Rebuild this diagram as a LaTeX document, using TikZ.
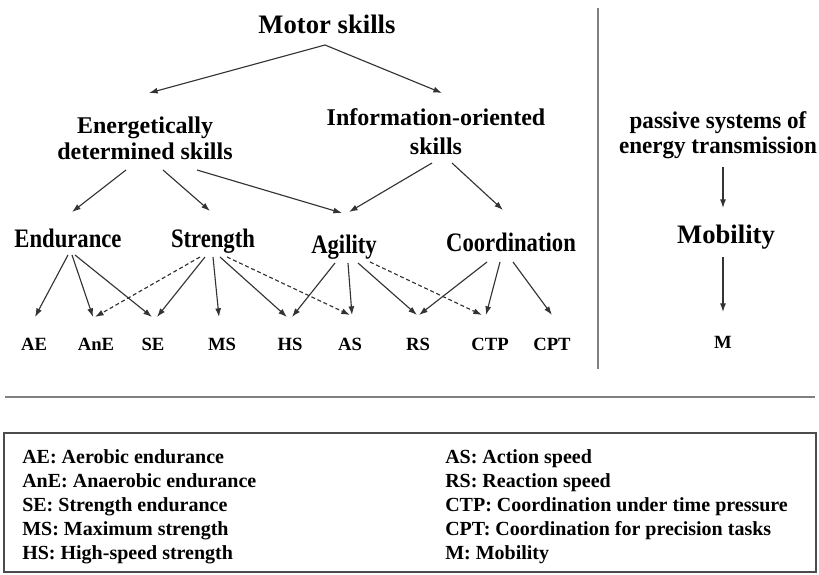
\documentclass[tikz,border=0pt]{standalone}
\usepackage{fontspec}
\setmainfont{Liberation Serif}
\usetikzlibrary{arrows.meta,calc}
\tikzset{
  arr/.style={draw=black!80, line width=0.85pt, -{Latex[length=6.5pt,width=4.5pt]}},
  dsh/.style={arr, dashed, dash pattern=on 3pt off 2pt},
  lvl1/.style={inner sep=0pt, anchor=base, font=\bfseries\fontsize{20}{22}\selectfont},
  lvl2/.style={inner sep=0pt, anchor=north, align=center, font=\bfseries\fontsize{18}{19.5}\selectfont},
  lvl3/.style={inner sep=0pt, anchor=base, font=\bfseries\fontsize{20}{22}\selectfont},
  leaf/.style={inner sep=0pt, anchor=base, font=\bfseries\fontsize{14}{15}\selectfont},
  leg/.style={inner sep=0pt, anchor=base west, font=\bfseries\fontsize{15}{17}\selectfont},
  sep/.style={draw=black!50, line width=1.5pt}
}
\newcommand{\cnd}[1]{\scalebox{0.85}[1]{#1}}
\begin{document}
\begin{tikzpicture}[x=0.75pt,y=-0.75pt]
\useasboundingbox (0,0) rectangle (819,575);
% nodes
\node[lvl1] (ms) at (327,33) {Motor skills};
\node[lvl2] (ene) at (145,117) {Energetically\\determined skills};
\node[lvl2, font=\bfseries\fontsize{18}{21.75}\selectfont] (info) at (436,108) {Information-oriented\\skills};
\node[lvl3] (endu) at (68,247) {\cnd{Endurance}};
\node[lvl3] (stren) at (213,247) {\cnd{Strength}};
\node[lvl3] (agil) at (344,253) {\cnd{Agility}};
\node[lvl3] (coord) at (511,251) {\cnd{Coordination}};
\node[leaf] (AE) at (34,350) {AE};
\node[leaf] (AnE) at (96,350) {AnE};
\node[leaf] (SE) at (153,350) {SE};
\node[leaf] (MS) at (222,350) {MS};
\node[leaf] (HS) at (290,350) {HS};
\node[leaf] (AS) at (350,350) {AS};
\node[leaf] (RS) at (418,350) {RS};
\node[leaf] (CTP) at (490,350) {CTP};
\node[leaf] (CPT) at (552,350) {CPT};
\node[lvl2, font=\bfseries\fontsize{18}{18.75}\selectfont] (pas) at (718,111.5) {\scalebox{0.96}[1]{passive systems of}\\\scalebox{0.96}[1]{energy transmission}};
\node[lvl3] (mob) at (726,243) {Mobility};
\node[leaf] (M) at (723,348) {M};
% arrows
\draw[arr] ($(ms.base)+(-2,12)$) -- ($(ene.north)+(4,-24)$);
\draw[arr] ($(ms.base)+(-2,12)$) -- ($(info.north)+(6,-15)$);
\draw[arr] ($(ene.north)+(-19,53)$) -- ($(endu.base)+(4,-35)$);
\draw[arr] ($(ene.north)+(18,53)$) -- ($(stren.base)+(-3,-36)$);
\draw[arr] ($(ene.north)+(52,53)$) -- ($(agil.base)+(-2,-40)$);
\draw[arr] ($(info.north)+(-4,55)$) -- ($(agil.base)+(5,-41)$);
\draw[arr] ($(info.north)+(16,55)$) -- ($(coord.base)+(-8,-41)$);
\draw[arr] ($(endu.base)+(0,8)$) -- ($(AE.base)+(1,-33)$);
\draw[arr] ($(endu.base)+(4,8)$) -- ($(AnE.base)+(-3,-33)$);
\draw[arr] ($(endu.base)+(7,8)$) -- ($(SE.base)+(-1,-33)$);
\draw[dsh] ($(stren.base)+(-13,10)$) -- ($(AnE.base)+(-1,-33)$);
\draw[arr] ($(stren.base)+(-8,10)$) -- ($(SE.base)+(4,-33)$);
\draw[arr] ($(stren.base)+(0,10)$) -- ($(MS.base)+(-3,-33)$);
\draw[arr] ($(stren.base)+(7,10)$) -- ($(HS.base)+(-3,-33)$);
\draw[dsh] ($(stren.base)+(14,10)$) -- ($(AS.base)+(0,-35)$);
\draw[arr] ($(agil.base)+(-9,10)$) -- ($(HS.base)+(2,-33)$);
\draw[arr] ($(agil.base)+(4,10)$) -- ($(AS.base)+(2,-35)$);
\draw[arr] ($(agil.base)+(14,10)$) -- ($(RS.base)+(-1,-35)$);
\draw[dsh] ($(agil.base)+(26,9)$) -- ($(CTP.base)+(-8,-35)$);
\draw[arr] ($(coord.base)+(-24,11)$) -- ($(RS.base)+(1,-35)$);
\draw[arr] ($(coord.base)+(-11,11)$) -- ($(CTP.base)+(-4,-35)$);
\draw[arr] ($(coord.base)+(2,11)$) -- ($(CPT.base)+(0,-35)$);
\draw[arr] ($(pas.north)+(5,55.5)$) -- ($(mob.base)+(-3,-35)$);
\draw[arr] ($(mob.base)+(-3,14)$) -- ($(M.base)+(0,-36)$);
% separators
\draw[sep] (598,8) -- (598,369);
\draw[sep] (5,397) -- (815,397);
\draw[draw=black!70, line width=1.2pt] (4,433) rectangle (816,572);
% legend
\node[leg] (l1) at (22,463) {AE: Aerobic endurance};
\node[leg] (l2) at (22,487) {AnE: Anaerobic endurance};
\node[leg] (l3) at (22,511) {SE: Strength endurance};
\node[leg] (l4) at (22,535) {MS: Maximum strength};
\node[leg] (l5) at (22,559) {HS: High-speed strength};
\node[leg] (r1) at (445,463) {AS: Action speed};
\node[leg] (r2) at (445,487) {RS: Reaction speed};
\node[leg] (r3) at (445,511) {CTP: Coordination under time pressure};
\node[leg] (r4) at (445,535) {CPT: Coordination for precision tasks};
\node[leg] (r5) at (445,559) {M: Mobility};
\end{tikzpicture}
\end{document}
